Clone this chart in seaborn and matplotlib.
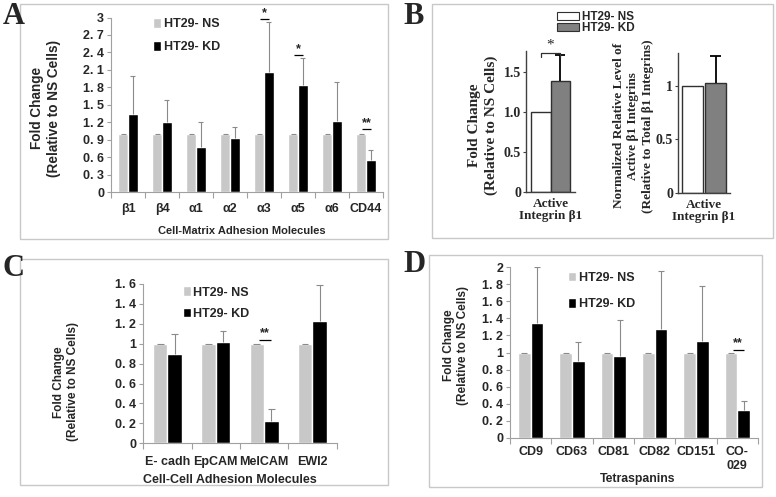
import pandas as pd
import seaborn as sns
import matplotlib.pyplot as plt
from matplotlib.patches import Patch, Rectangle

# ---- data ----
groups = ['HT29- NS', 'HT29- KD']

# A: cell-matrix adhesion molecules
a_cats = ['β1', 'β4', 'α1', 'α2', 'α3', 'α5', 'α6', 'CD44']
a_ns = [1, 1, 1, 1, 1, 1, 1, 1]
a_kd = [1.34, 1.21, 0.78, 0.94, 2.06, 1.84, 1.22, 0.55]
a_kd_top = [1.99, 1.58, 1.20, 1.12, 2.92, 2.30, 1.89, 0.73]
a_ticks = [0, 0.3, 0.6, 0.9, 1.2, 1.5, 1.8, 2.1, 2.4, 2.7, 3]
a_ticklabels = ['0', '0. 3', '0. 6', '0. 9', '1. 2', '1. 5', '1. 8', '2. 1', '2. 4', '2. 7', '3']
a_sig_cats = ['α3', 'α5', 'CD44']
a_sig_text = ['*', '*', '**']
a_sig_y = [2.97, 2.35, 1.08]

# B: active integrin beta1
b_fold = [1.0, 1.39]
b_fold_top = 1.71
b_norm = [1.0, 1.025]
b_norm_top = 1.28

# C: cell-cell adhesion molecules
c_cats = ['E- cadh', 'EpCAM', 'MelCAM', 'EWI2']
c_ns = [1, 1, 1, 1]
c_kd = [0.90, 1.02, 0.22, 1.23]
c_kd_top = [1.10, 1.13, 0.34, 1.59]
c_ticks = [0, 0.2, 0.4, 0.6, 0.8, 1, 1.2, 1.4, 1.6]
c_ticklabels = ['0', '0. 2', '0. 4', '0. 6', '0. 8', '1', '1. 2', '1. 4', '1. 6']
c_sig_cats = ['MelCAM']
c_sig_text = ['**']
c_sig_y = [1.04]

# D: tetraspanins
d_cats = ['CD9', 'CD63', 'CD81', 'CD82', 'CD151', 'CO-\n029']
d_ns = [1, 1, 1, 1, 1, 1]
d_kd = [1.35, 0.90, 0.96, 1.28, 1.13, 0.32]
d_kd_top = [2.00, 1.12, 1.38, 1.96, 1.78, 0.43]
d_ticks = [0, 0.2, 0.4, 0.6, 0.8, 1, 1.2, 1.4, 1.6, 1.8, 2]
d_ticklabels = ['0', '0. 2', '0. 4', '0. 6', '0. 8', '1', '1. 2', '1. 4', '1. 6', '1. 8', '2']
d_sig_cats = ['CO-\n029']
d_sig_text = ['**']
d_sig_y = [1.03]

LIGHT = '#c8c8c8'
AXGRAY = '#a0a0a0'
ERRGRAY = '#8a8a8a'
W, H = 776, 497

sns.set_style('white')
plt.rcParams['font.family'] = ['Liberation Sans', 'DejaVu Sans']
fig = plt.figure(figsize=(7.76, 4.97), dpi=100)


def rect(x0, y0, x1, y1):
    # pixel box (top-left origin) -> figure fraction
    return [x0 / W, 1 - y1 / H, (x1 - x0) / W, (y1 - y0) / H]


def excel_panel(box, cats, ns, kd, kd_top, ticks, ticklabels, width, sig, leg_xy,
                leg_space, xlab, xlab_xy, xlab_fs, ylab_xy, ylab_fs, tick_pad):
    ax = fig.add_axes(rect(*box))
    n = len(cats)
    df = pd.DataFrame({'cat': cats * 2,
                       'group': [groups[0]] * n + [groups[1]] * n,
                       'val': ns + kd})
    sns.barplot(data=df, x='cat', y='val', hue='group', order=cats, hue_order=groups,
                palette=[LIGHT, 'black'], saturation=1, width=width, gap=0,
                errorbar=None, legend=False, ax=ax)
    capw = 0.07
    for cont, tops in zip(ax.containers, [ns, kd_top]):
        for bar, top in zip(cont, tops):
            xc = bar.get_x() + bar.get_width() / 2
            ax.vlines(xc, bar.get_height(), top, color=ERRGRAY, lw=0.8)
            ax.hlines(top, xc - capw, xc + capw, color=ERRGRAY, lw=0.8)
    for c, t, y in zip(*sig):
        xi = cats.index(c) + 0.02
        ax.hlines(y, xi - 0.13, xi + 0.13, color='black', lw=0.9, clip_on=False)
        ax.text(xi, y + 0.003 * ticks[-1], t, ha='center', va='bottom', fontsize=9,
                fontweight='bold', clip_on=False)
    ax.set_ylim(0, ticks[-1])
    ax.set_xlim(-0.5, n - 0.5)
    ax.set_yticks(ticks)
    ax.set_yticklabels(ticklabels, fontsize=9, fontweight='bold')
    ax.set_xticks(range(n))
    ax.set_xticklabels(cats, fontsize=9, fontweight='bold', linespacing=1.2)
    ax.set_xticks([i - 0.5 for i in range(n + 1)], minor=True)
    ax.tick_params(axis='x', which='major', length=0, pad=tick_pad)
    ax.tick_params(axis='x', which='minor', length=4, color=AXGRAY, width=0.8,
                   direction='out', bottom=True)
    ax.tick_params(axis='y', length=3, color=AXGRAY, width=0.8, direction='out',
                   left=True, pad=2)
    for s in ['top', 'right']:
        ax.spines[s].set_visible(False)
    for s in ['left', 'bottom']:
        ax.spines[s].set_color(AXGRAY)
        ax.spines[s].set_linewidth(0.8)
    ax.set_xlabel(xlab, fontsize=xlab_fs, fontweight='bold')
    ax.xaxis.set_label_coords(*xlab_xy)
    ax.set_ylabel('Fold Change\n(Relative to NS Cells)', fontsize=ylab_fs,
                  fontweight='bold', linespacing=1.2)
    ax.yaxis.set_label_coords(*ylab_xy)
    handles = [Patch(facecolor=LIGHT), Patch(facecolor='black')]
    ax.legend(handles, groups, loc='upper left', bbox_to_anchor=leg_xy, frameon=False,
              prop={'weight': 'bold', 'size': 9}, handlelength=0.65,
              handleheight=0.8, handletextpad=0.2, labelspacing=leg_space,
              borderpad=0, borderaxespad=0)
    return ax


# panel A
excel_panel((111, 17.5, 383, 192.3), a_cats, a_ns, a_kd, a_kd_top, a_ticks, a_ticklabels,
            0.56, (a_sig_cats, a_sig_text, a_sig_y), (0.154, 0.995), 0.85,
            'Cell-Matrix Adhesion Molecules', (0.48, -0.19), 8, (-0.185, 0.48), 9.8, 8)

# panel C
excel_panel((143.3, 284, 336.5, 443.3), c_cats, c_ns, c_kd, c_kd_top, c_ticks,
            c_ticklabels, 0.6, (c_sig_cats, c_sig_text, c_sig_y), (0.204, 0.985), 0.75,
            'Cell-Cell Adhesion Molecules', (0.45, -0.19), 9, (-0.335, 0.385), 8.5, 9)

# panel D
excel_panel((510, 267.3, 758, 437.7), d_cats, d_ns, d_kd, d_kd_top, d_ticks,
            d_ticklabels, 0.61, (d_sig_cats, d_sig_text, d_sig_y), (0.235, 0.975), 1.15,
            'Tetraspanins', (0.514, -0.205), 8.8, (-0.165, 0.54), 8.5, 6)

# panel B
serif = ['Liberation Serif', 'DejaVu Serif']


def b_panel(box, vals, top, ylim, ticks, ticklabels, width, gap, ylab, ylab_xy, fs):
    ax = fig.add_axes(rect(*box))
    df = pd.DataFrame({'cat': ['Active\nIntegrin β1'] * 2, 'group': groups, 'val': vals})
    sns.barplot(data=df, x='cat', y='val', hue='group', hue_order=groups,
                palette=['white', '#808080'], saturation=1, width=width, gap=gap,
                errorbar=None, legend=False, edgecolor='#303030', linewidth=1.0, ax=ax)
    kd_bar = ax.containers[1][0]
    xc = kd_bar.get_x() + kd_bar.get_width() / 2
    ax.vlines(xc, kd_bar.get_height(), top, color='black', lw=1.3)
    ax.hlines(top, xc - 0.1, xc + 0.1, color='black', lw=1.3)
    ax.set_xlim(-0.5, 0.5)
    ax.set_ylim(*ylim)
    ax.set_yticks(ticks)
    ax.set_yticklabels(ticklabels, fontsize=10, fontweight='bold', family=serif)
    ax.set_xticks([0])
    ax.set_xticklabels(['Active\nIntegrin β1'], fontsize=9.5, fontweight='bold',
                       family=serif, linespacing=1.05)
    ax.tick_params(axis='x', length=0, pad=4)
    ax.tick_params(axis='y', length=2.5, color='#404040', width=0.8, left=True, pad=1)
    for s in ['top', 'right']:
        ax.spines[s].set_visible(False)
    for s in ['left', 'bottom']:
        ax.spines[s].set_color('#404040')
        ax.spines[s].set_linewidth(1.0)
    ax.set_xlabel('')
    ax.set_ylabel(ylab, fontsize=fs, fontweight='bold', family=serif, linespacing=1.3)
    ax.yaxis.set_label_coords(*ylab_xy)
    return ax


axb1 = b_panel((526, 50.7, 575, 192), b_fold, b_fold_top, (0, 1.77), [0, 0.5, 1.0, 1.5],
               ['0', '0.5', '1.0', '1.5'], 0.8, 0, 'Fold Change\n(Relative to NS Cells)',
               (-0.58, 0.47), 11)
# significance bracket on B
c0 = [b.get_x() + b.get_width() / 2 for b in (axb1.containers[0][0], axb1.containers[1][0])]
axb1.plot([c0[0], c0[0], c0[1], c0[1]], [1.69, 1.745, 1.745, 1.69], color='#303030', lw=0.9,
          clip_on=False)
axb1.text(sum(c0) / 2, 1.76, '*', ha='center', va='bottom', fontsize=11, family=serif,
          clip_on=False)

b_panel((678, 52.7, 730, 193), b_norm, b_norm_top, (0, 1.31), [0, 0.5, 1], ['0', '0.5', '1'],
        0.89, 0.11,
        'Normalized Relative Level of\nActive β1 Integrins\n(Relative to Total β1 Integrins)',
        (-0.46, 0.478), 9.5)

fig.legend([Patch(facecolor='white', edgecolor='#303030', lw=0.8),
            Patch(facecolor='#808080', edgecolor='#303030', lw=0.8)], groups,
           loc='upper left', bbox_to_anchor=(557 / W, 1 - 11 / H), frameon=False,
           prop={'weight': 'bold', 'size': 8.5}, handlelength=1.9, handleheight=0.65,
           handletextpad=0.25, labelspacing=-0.1, borderpad=0, borderaxespad=0)

# panel frames and letters
for x0, y0, x1, y1 in [(20, 4, 388, 239), (432, 4, 773, 238), (20, 259, 388, 485),
                       (429, 255, 762, 487)]:
    fig.add_artist(Rectangle((x0 / W, 1 - y1 / H), (x1 - x0) / W, (y1 - y0) / H,
                             transform=fig.transFigure, fill=False, edgecolor=LIGHT, lw=1))
for letter, x, y in [('A', 3, 2), ('B', 403, 2), ('C', 3, 254), ('D', 403, 250)]:
    fig.text(x / W, 1 - y / H, letter, fontsize=22, fontweight='bold', family=serif,
             ha='left', va='top')

fig.savefig('out.png', dpi=100)
